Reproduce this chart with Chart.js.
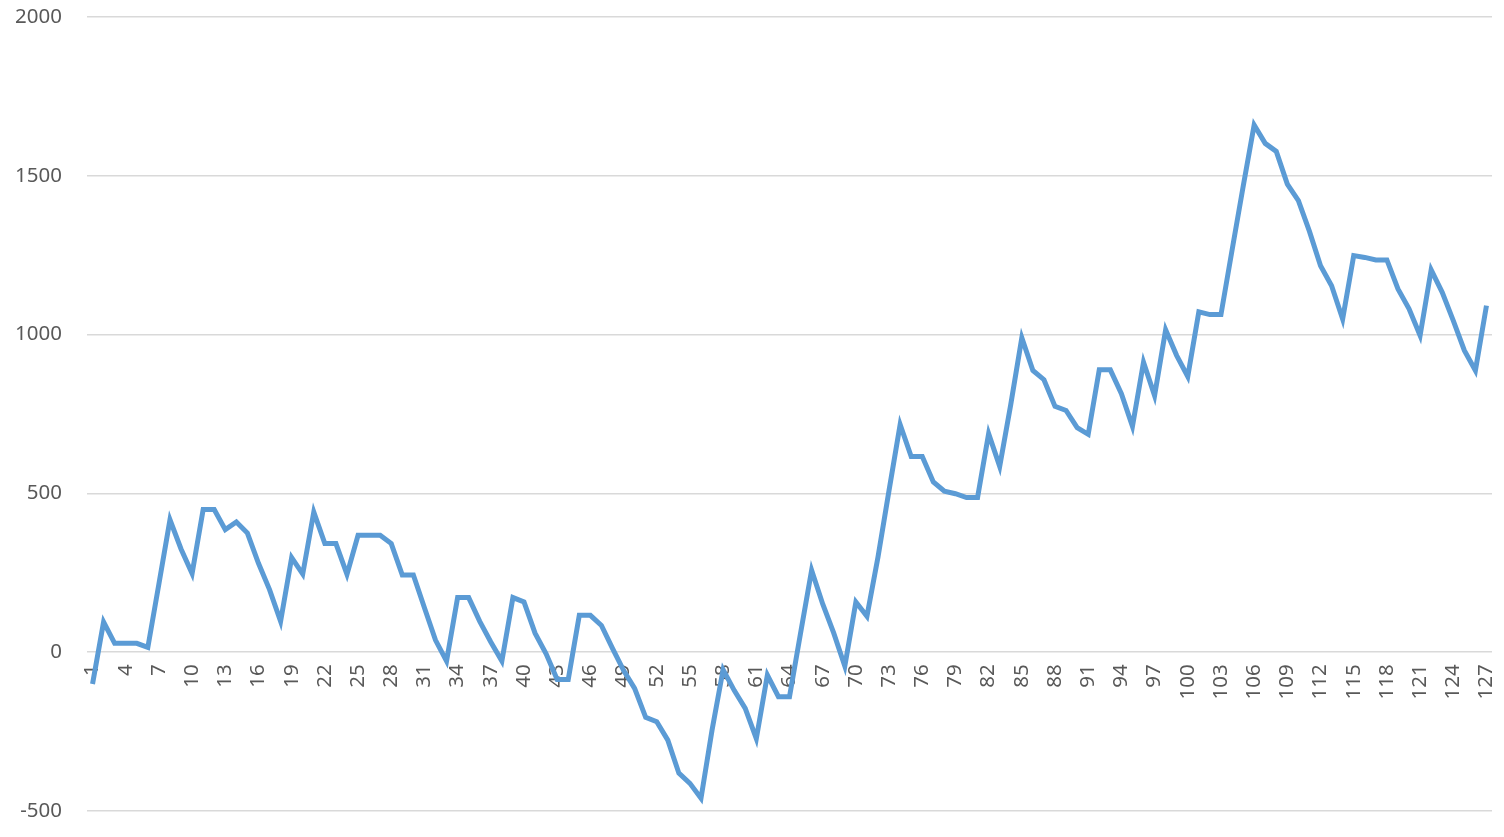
<!DOCTYPE html>
<html>
<head>
<meta charset="utf-8">
<script src="https://cdn.jsdelivr.net/npm/chart.js@4/dist/chart.umd.min.js"></script>
<style>
  body { margin: 0; background: #ffffff; }
  #chart { display: block; }
</style>
</head>
<body>
<canvas id="chart" width="1504" height="837"></canvas>
<script>
// values, one per category (1..127)
var values = [
  -100, 95, 28, 28, 28, 15, 215, 417, 325, 248,
  449, 449, 386, 410, 375, 280, 197, 97, 298, 246,
  441, 342, 342, 245, 368, 368, 368, 342, 243, 243,
  140, 38, -28, 172, 172, 97, 32, -28, 172, 158,
  60, -5, -86, -86, 116, 116, 84, 12, -57, -114,
  -205, -219, -277, -381, -413, -460, -245, -55, -120, -177,
  -272, -72, -140, -140, 60, 258, 152, 60, -44, 158,
  113, 300, 510, 717, 616, 616, 536, 507, 499, 487,
  487, 688, 585, 780, 990, 887, 858, 774, 761, 707,
  686, 889, 889, 814, 711, 913, 808, 1015, 934, 868,
  1072, 1063, 1063, 1265, 1465, 1660, 1602, 1577, 1474, 1422,
  1325, 1217, 1154, 1049, 1249, 1243, 1235, 1235, 1144, 1081,
  997, 1204, 1133, 1044, 950, 887, 1091
];
var categories = [];
for (var i = 1; i <= values.length; i++) categories.push(String(i));

var yMin = -500;
var yMax = 2000;
var yStep = 500;

var textColor = '#595959';
var gridColor = '#d9d9d9';
var lineColor = '#5b9bd5';

// keep the layout from reserving room for half-labels at the ends
function noPadding(scale) {
  scale.paddingTop = 0;
  scale.paddingBottom = 0;
  scale.paddingLeft = 0;
  scale.paddingRight = 0;
}

new Chart(document.getElementById('chart').getContext('2d'), {
  type: 'line',
  data: {
    labels: categories,
    datasets: [{
      data: values,
      borderColor: lineColor,
      borderWidth: 5,
      pointRadius: 0,
      tension: 0,
      fill: false
    }]
  },
  options: {
    responsive: false,
    animation: false,
    devicePixelRatio: 1,
    layout: { padding: { top: 17, bottom: 26, right: 12, left: 0 } },
    plugins: { legend: { display: false }, tooltip: { enabled: false } },
    scales: {
      x: {
        type: 'category',
        offset: true,
        position: { y: 0 },
        grid: { display: false, drawTicks: false },
        border: { display: false },
        ticks: {
          autoSkip: false,
          minRotation: 90,
          maxRotation: 90,
          padding: 12,
          color: textColor,
          font: { family: 'Noto Sans', size: 20.5 },
          callback: function(val, index) {
            return index % 3 == 0 ? this.getLabelForValue(val) : '';
          }
        },
        afterFit: noPadding
      },
      y: {
        min: yMin,
        max: yMax,
        grid: { color: gridColor, lineWidth: 1.5, drawTicks: false },
        border: { display: false },
        ticks: {
          stepSize: yStep,
          padding: 25,
          color: textColor,
          font: { family: 'Noto Sans', size: 20.5 },
          callback: function(v) { return String(v); }
        },
        afterFit: function(scale) { noPadding(scale); scale.width = 87; }
      }
    }
  }
});
</script>
</body>
</html>
